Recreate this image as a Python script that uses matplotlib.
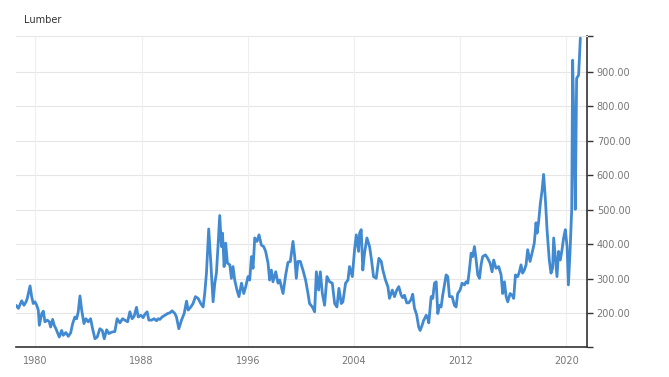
import matplotlib
matplotlib.use("Agg")
import matplotlib.pyplot as plt

title = "Lumber"

years = [
    1978.53, 1978.71, 1978.96, 1979.13, 1979.29, 1979.38, 1979.59, 1979.71, 1979.83, 1979.96,
    1980.09, 1980.21, 1980.29, 1980.47, 1980.59, 1980.71, 1980.89, 1981.04, 1981.14, 1981.29,
    1981.41, 1981.54, 1981.79, 1981.97, 1982.09, 1982.29, 1982.47, 1982.65, 1982.80, 1982.97,
    1983.10, 1983.22, 1983.35, 1983.48, 1983.65, 1983.80, 1983.97, 1984.15, 1984.30, 1984.48,
    1984.65, 1984.85, 1985.03, 1985.18, 1985.36, 1985.53, 1985.73, 1985.98, 1986.15, 1986.36,
    1986.56, 1986.73, 1986.94, 1987.11, 1987.28, 1987.43, 1987.61, 1987.74, 1987.94, 1988.11,
    1988.24, 1988.41, 1988.54, 1988.74, 1988.94, 1989.12, 1989.24, 1989.37, 1989.54, 1989.74,
    1989.95, 1990.12, 1990.29, 1990.50, 1990.62, 1990.80, 1991.00, 1991.20, 1991.38, 1991.50,
    1991.70, 1991.87, 1992.05, 1992.25, 1992.45, 1992.63, 1992.75, 1992.88, 1993.05, 1993.21,
    1993.38, 1993.51, 1993.63, 1993.75, 1993.88, 1994.01, 1994.09, 1994.21, 1994.33, 1994.46,
    1994.64, 1994.76, 1994.88, 1995.01, 1995.18, 1995.33, 1995.52, 1995.69, 1995.84, 1996.01,
    1996.14, 1996.27, 1996.39, 1996.52, 1996.69, 1996.84, 1997.02, 1997.19, 1997.34, 1997.52,
    1997.64, 1997.77, 1997.89, 1998.10, 1998.27, 1998.40, 1998.52, 1998.65, 1998.85, 1999.02,
    1999.20, 1999.40, 1999.53, 1999.65, 1999.77, 1999.95, 2000.15, 2000.35, 2000.53, 2000.65,
    2000.86, 2001.03, 2001.16, 2001.33, 2001.46, 2001.61, 2001.78, 2001.96, 2002.16, 2002.36,
    2002.54, 2002.71, 2002.86, 2003.04, 2003.16, 2003.36, 2003.54, 2003.66, 2003.87, 2004.04,
    2004.17, 2004.34, 2004.42, 2004.54, 2004.66, 2004.79, 2004.97, 2005.17, 2005.30, 2005.47,
    2005.67, 2005.87, 2006.05, 2006.17, 2006.37, 2006.55, 2006.67, 2006.88, 2007.05, 2007.22,
    2007.37, 2007.55, 2007.67, 2007.80, 2007.97, 2008.12, 2008.30, 2008.42, 2008.55, 2008.72,
    2008.87, 2008.98, 2009.13, 2009.23, 2009.44, 2009.56, 2009.63, 2009.81, 2009.93, 2010.06,
    2010.19, 2010.31, 2010.44, 2010.56, 2010.68, 2010.81, 2010.94, 2011.06, 2011.19, 2011.39,
    2011.56, 2011.69, 2011.81, 2011.99, 2012.14, 2012.32, 2012.44, 2012.57, 2012.69, 2012.82,
    2012.94, 2013.07, 2013.20, 2013.32, 2013.45, 2013.57, 2013.69, 2013.90, 2014.07, 2014.25,
    2014.40, 2014.52, 2014.70, 2014.90, 2015.08, 2015.20, 2015.33, 2015.46, 2015.58, 2015.76,
    2015.91, 2016.03, 2016.16, 2016.33, 2016.46, 2016.58, 2016.70, 2016.83, 2016.96, 2017.08,
    2017.26, 2017.41, 2017.58, 2017.71, 2017.79, 2017.91, 2018.04, 2018.16, 2018.28, 2018.41,
    2018.54, 2018.71, 2018.84, 2018.96, 2019.04, 2019.16, 2019.29, 2019.41, 2019.54, 2019.67,
    2019.79, 2019.92, 2020.05, 2020.15, 2020.28, 2020.40, 2020.47, 2020.60, 2020.67, 2020.77,
    2020.92, 2021.05,
]

prices = [
    223, 214, 236, 223, 233, 243, 279, 248, 228, 233,
    223, 209, 165, 199, 206, 175, 180, 175, 160, 182,
    165, 155, 131, 150, 136, 144, 133, 143, 170, 189,
    184, 204, 250, 209, 170, 184, 175, 184, 155, 126,
    131, 155, 150, 126, 152, 141, 145, 147, 184, 172,
    184, 180, 175, 204, 184, 191, 217, 189, 194, 187,
    197, 204, 180, 180, 184, 178, 184, 182, 189, 194,
    199, 201, 207, 199, 189, 155, 180, 199, 235, 209,
    218, 228, 248, 243, 228, 218, 257, 316, 444, 345,
    233, 287, 316, 393, 483, 393, 432, 335, 403, 345,
    340, 301, 335, 296, 267, 248, 287, 257, 277, 306,
    296, 364, 330, 418, 408, 427, 397, 393, 379, 345,
    296, 325, 291, 320, 287, 296, 277, 257, 311, 347,
    350, 408, 364, 301, 350, 350, 325, 296, 257, 228,
    218, 204, 320, 267, 320, 257, 223, 306, 291, 287,
    228, 218, 272, 228, 233, 287, 296, 335, 306, 384,
    427, 379, 432, 442, 325, 374, 418, 393, 359, 306,
    301, 359, 350, 325, 296, 277, 243, 267, 248, 267,
    277, 252, 245, 252, 230, 230, 240, 255, 215, 195,
    160, 150, 165, 178, 194, 184, 172, 248, 243, 287,
    291, 199, 223, 218, 252, 282, 311, 306, 248, 248,
    223, 218, 257, 267, 287, 282, 291, 287, 325, 374,
    364, 393, 354, 311, 301, 340, 364, 369, 359, 345,
    320, 354, 330, 335, 311, 257, 291, 248, 233, 257,
    252, 243, 311, 306, 320, 340, 316, 325, 340, 384,
    350, 374, 403, 462, 432, 466, 519, 554, 602, 534,
    442, 354, 316, 330, 418, 364, 306, 379, 354, 384,
    418, 442, 393, 282, 384, 501, 933, 665, 501, 880,
    890, 997,
]

x_ticks = [1980, 1988, 1996, 2004, 2012, 2020]
y_ticks = [200, 300, 400, 500, 600, 700, 800, 900]

y_min, y_max = 103, 1003
x_min, x_max = 1978.53, 2021.55

fig = plt.figure(figsize=(6.69, 3.77), dpi=100)
ax = fig.add_axes([0.0239, 0.0804, 0.8535, 0.8241])

ax.plot(years, prices, color="#4189d0", linewidth=2.0, solid_joinstyle="round",
        solid_capstyle="round", zorder=3)

ax.set_xlim(x_min, x_max)
ax.set_ylim(y_min, y_max)

ax.yaxis.tick_right()
ax.yaxis.set_label_position("right")
end_ticks = [y_min] + y_ticks + [y_max]
ax.set_yticks(end_ticks)
ax.set_yticklabels([""] + [f"{v:.2f}" for v in y_ticks] + [""])
ax.set_xticks(x_ticks)
ax.set_xticklabels([str(v) for v in x_ticks])

ax.tick_params(axis="y", which="both", direction="out", length=4.5, width=1.0,
               color="#333333", labelsize=7, labelcolor="#777777", pad=2.5)
ax.tick_params(axis="x", which="both", length=0, labelsize=7, labelcolor="#777777", pad=7)

ax.spines["left"].set_visible(False)
ax.spines["top"].set_color("#e8e8e8")
ax.spines["top"].set_linewidth(0.8)
ax.spines["bottom"].set_color("#333333")
ax.spines["bottom"].set_linewidth(1.2)
ax.spines["right"].set_color("#333333")
ax.spines["right"].set_linewidth(1.2)

for v in y_ticks:
    ax.axhline(v, color="#e6e6e6", linewidth=0.8, zorder=1)
for v in x_ticks:
    ax.axvline(v, color="#eef0f0", linewidth=0.8, zorder=1)

fig.text(24 / 669, 1 - 20 / 377, title, fontsize=7, color="#333333",
         ha="left", va="center")

fig.savefig("out.png", dpi=100)
